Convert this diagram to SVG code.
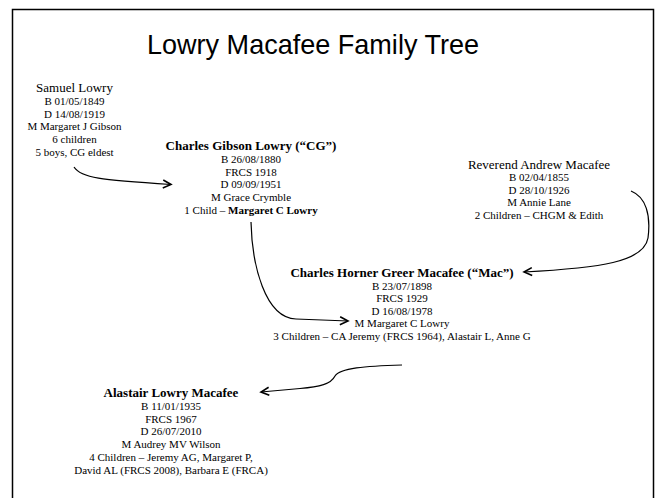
<svg xmlns="http://www.w3.org/2000/svg" width="657" height="498" viewBox="0 0 657 498">
<defs>
<style>
.t{font-family:"Liberation Serif","Times New Roman",serif;font-size:11px;fill:#000;text-anchor:middle}
.h{font-size:13px}
.b{font-weight:bold;font-size:13px}
.bb{font-weight:bold}
.title{font-family:"Liberation Sans",Arial,sans-serif;font-size:28px;fill:#000;text-anchor:middle}
.c{fill:none;stroke:#000;stroke-width:1.2}
</style>
<marker id="arr" markerUnits="userSpaceOnUse" markerWidth="12" markerHeight="12" refX="8" refY="4" orient="auto" overflow="visible">
<path d="M0,0 L8,4 L0,8" fill="none" stroke="#000" stroke-width="1.6"/>
</marker>
</defs>
<rect x="0" y="0" width="657" height="498" fill="#fff"/>
<rect x="12.5" y="9.5" width="641" height="500" fill="none" stroke="#000" stroke-width="1.5"/>
<text class="title" x="313" y="54" textLength="332" lengthAdjust="spacingAndGlyphs">Lowry Macafee Family Tree</text>

<g id="samuel">
<text class="t h" x="74.5" y="92">Samuel Lowry</text>
<text class="t" x="74.5" y="105">B 01/05/1849</text>
<text class="t" x="74.5" y="117.5">D 14/08/1919</text>
<text class="t" x="74.5" y="130">M Margaret J Gibson</text>
<text class="t" x="74.5" y="143">6 children</text>
<text class="t" x="74.5" y="155.5">5 boys, CG eldest</text>
</g>

<g id="cg">
<text class="t b" x="251" y="150">Charles Gibson Lowry (“CG”)</text>
<text class="t" x="251" y="163">B 26/08/1880</text>
<text class="t" x="251" y="175.5">FRCS 1918</text>
<text class="t" x="251" y="188">D 09/09/1951</text>
<text class="t" x="251" y="201">M Grace Crymble</text>
<text class="t" x="251" y="214">1 Child – <tspan class="bb">Margaret C Lowry</tspan></text>
</g>

<g id="andrew">
<text class="t h" x="539" y="168.5">Reverend Andrew Macafee</text>
<text class="t" x="539" y="181">B 02/04/1855</text>
<text class="t" x="539" y="193.5">D 28/10/1926</text>
<text class="t" x="539" y="206">M Annie Lane</text>
<text class="t" x="539" y="218.5">2 Children – CHGM &amp; Edith</text>
</g>

<g id="chgm">
<text class="t b" x="402" y="277">Charles Horner Greer Macafee (“Mac”)</text>
<text class="t" x="402" y="289.5">B 23/07/1898</text>
<text class="t" x="402" y="302">FRCS 1929</text>
<text class="t" x="402" y="314.5">D 16/08/1978</text>
<text class="t" x="402" y="327">M Margaret C Lowry</text>
<text class="t" x="402" y="339.5">3 Children – CA Jeremy (FRCS 1964), Alastair L, Anne G</text>
</g>

<g id="alastair">
<text class="t b" x="171" y="397">Alastair Lowry Macafee</text>
<text class="t" x="171" y="410">B 11/01/1935</text>
<text class="t" x="171" y="422.5">FRCS 1967</text>
<text class="t" x="171" y="435">D 26/07/2010</text>
<text class="t" x="171" y="448">M Audrey MV Wilson</text>
<text class="t" x="171" y="461">4 Children – Jeremy AG, Margaret P,</text>
<text class="t" x="171" y="473.5">David AL (FRCS 2008), Barbara E (FRCA)</text>
</g>

<g id="connectors">
<path class="c" marker-end="url(#arr)" d="M74,167 C81,178 100,180 171,184.5"/>
<path class="c" marker-end="url(#arr)" d="M251,222 C252,265 265,318 296,319 L348,321"/>
<path class="c" marker-end="url(#arr)" d="M631,191 C646,197 651,215 648,238 C644,262 600,268 524,272"/>
<path class="c" marker-end="url(#arr)" d="M402,365 C365,366 340,368 335,376 C331,384 320,387 300,388.5 L261,392"/>
</g>
</svg>
